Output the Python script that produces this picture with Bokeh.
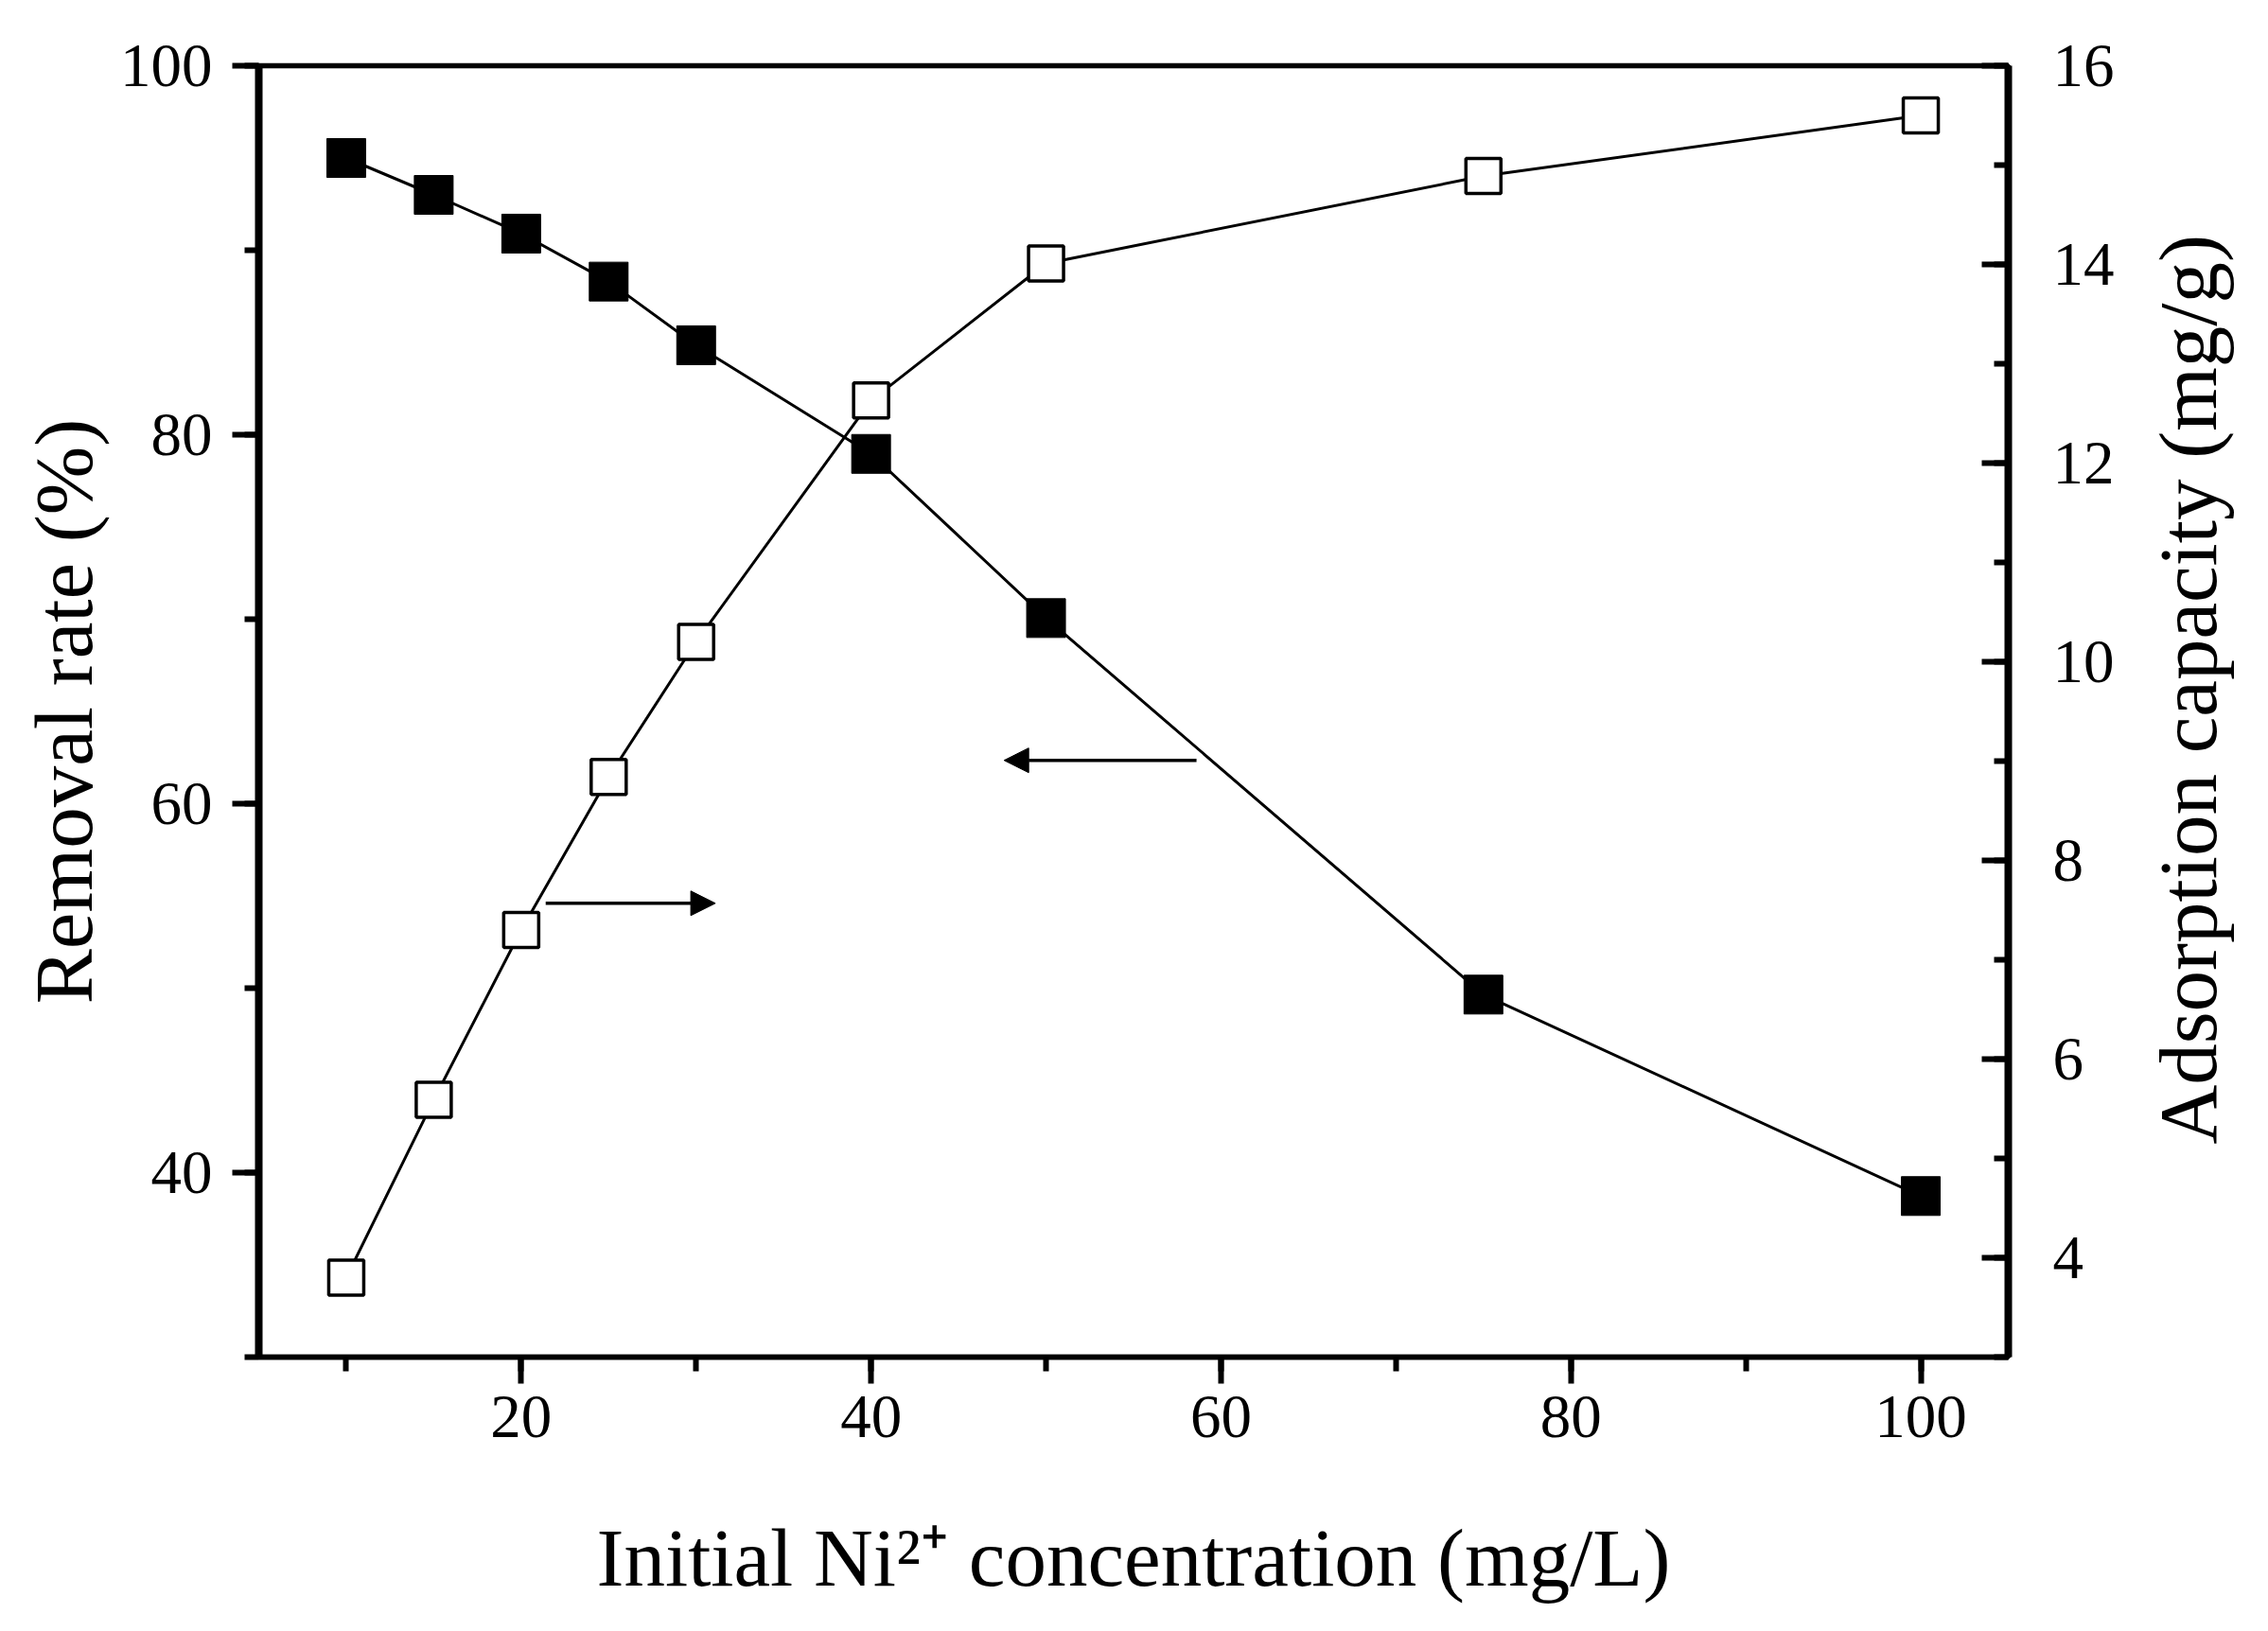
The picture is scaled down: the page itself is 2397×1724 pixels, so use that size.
import math
from bokeh.plotting import figure
from bokeh.layouts import row
from bokeh.core.properties import value
from bokeh.models import (Range1d, LinearAxis, SingleIntervalTicker, Arrow,
                          NormalHead)
from bokeh.embed import file_html
from bokeh.resources import INLINE

# ---------------- data ----------------
conc = [10, 15, 20, 25, 30, 40, 50, 75, 100]                 # Initial Ni2+ (mg/L)
removal_rate = [95.0, 93.0, 90.9, 88.3, 84.85, 78.96, 70.06, 49.65, 38.73]   # %
adsorption_capacity = [3.80, 5.59, 7.30, 8.84, 10.20, 12.63, 14.01, 14.89, 15.50]  # mg/g

x_label = "Initial Ni\u00b2\u207a concentration (mg/L)"
left_label = "Removal rate (%)"
right_label = "Adsorption capacity (mg/g)"

x_limits = (5, 105)
left_limits = (30, 100)
right_limits = (3, 16)

# guide arrows (x start, x end, y on the left scale)
arrow_to_left = (58.6, 47.6, 62.35)
arrow_to_right = (21.4, 31.1, 54.6)

FONT = "Liberation Serif"
TICK_SIZE = "65px"
TITLE_SIZE = "87px"

H = 1706
MAIN_W = 2262
SIDE_W = 118

p = figure(width=MAIN_W, height=H,
           x_range=Range1d(*x_limits), y_range=Range1d(*left_limits),
           output_backend="svg", toolbar_location=None,
           min_border_left=273, min_border_right=MAIN_W - 2122,
           min_border_top=69, min_border_bottom=H - 1434,
           background_fill_color="white", border_fill_color="white")
p.extra_y_ranges = {"cap": Range1d(*right_limits)}

p.xgrid.grid_line_color = None
p.ygrid.grid_line_color = None
p.outline_line_color = "black"
p.outline_line_width = 5.5


def style_axis(ax, line_w):
    ax.axis_line_width = line_w
    ax.axis_line_color = "black"
    ax.major_tick_line_width = 6
    ax.minor_tick_line_width = 6
    ax.major_tick_line_color = "black"
    ax.minor_tick_line_color = "black"
    ax.major_label_text_font = FONT
    ax.major_label_text_font_size = TICK_SIZE
    ax.major_label_text_color = "black"
    ax.axis_label_text_font = FONT
    ax.axis_label_text_font_size = TITLE_SIZE
    ax.axis_label_text_font_style = "normal"
    ax.axis_label_text_color = "black"


bottom = p.below[0]
bottom.ticker = SingleIntervalTicker(interval=20, num_minor_ticks=2)
style_axis(bottom, 5.5)
bottom.major_tick_out = 28
bottom.major_tick_in = 0
bottom.minor_tick_out = 15
bottom.minor_tick_in = 0
bottom.major_label_standoff = 13
bottom.axis_label = x_label
bottom.axis_label_standoff = 76

left = p.left[0]
left.ticker = SingleIntervalTicker(interval=20, num_minor_ticks=2)
style_axis(left, 8)
left.major_tick_out = 28
left.major_tick_in = 0
left.minor_tick_out = 15
left.minor_tick_in = 0
left.major_label_standoff = 21
left.axis_label = left_label
left.axis_label_standoff = 8

right = LinearAxis(y_range_name="cap",
                   ticker=SingleIntervalTicker(interval=2, num_minor_ticks=2))
style_axis(right, 8)
right.major_tick_out = 0
right.major_tick_in = 28
right.minor_tick_out = 0
right.minor_tick_in = 15
right.major_label_standoff = 47
p.add_layout(right, "right")

# series
p.line(conc, removal_rate, line_width=3, line_color="black")
p.line(conc, adsorption_capacity, line_width=3, line_color="black",
       y_range_name="cap")
p.scatter(conc, removal_rate, marker="square", size=41,
          fill_color="black", line_color="black", line_width=1)
p.scatter(conc, adsorption_capacity, marker="square", size=37,
          fill_color="white", line_color="black", line_width=3.5,
          y_range_name="cap")

# guide arrows
for xs, xe, yy in (arrow_to_left, arrow_to_right):
    p.add_layout(Arrow(end=NormalHead(size=26, fill_color="black",
                                      line_color="black", line_width=1),
                       x_start=xs, y_start=yy, x_end=xe, y_end=yy,
                       line_width=3.5, line_color="black"))

# narrow strip on the right that carries the right-hand axis title,
# reading bottom to top (pixel-like coordinates)
side = figure(width=SIDE_W, height=H,
              x_range=Range1d(0, SIDE_W), y_range=Range1d(0, H),
              output_backend="svg", toolbar_location=None,
              min_border=0, x_axis_location=None, y_axis_location=None,
              outline_line_color=None,
              background_fill_color="white", border_fill_color="white")
side.grid.visible = False
side.text(x=[50], y=[882], text=[right_label], angle=math.pi / 2,
          text_align="center", text_baseline="middle",
          text_font=value(FONT), text_font_size=value(TITLE_SIZE),
          text_color="black")

layout = row(p, side)
open("out.html", "w").write(file_html(layout, INLINE))
